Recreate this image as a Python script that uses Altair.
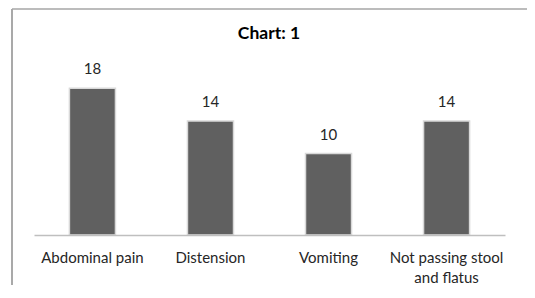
import altair as alt
import pandas as pd

categories = ["Abdominal pain", "Distension", "Vomiting", "Not passing stool and flatus"]
values = [18, 14, 10, 14]
title_text = "Chart: 1"

df = pd.DataFrame({"category": categories, "value": values})

W, H = 471, 163

x_enc = alt.X("category:N", sort=categories,
              scale=alt.Scale(paddingInner=0.61, paddingOuter=0.3),
              axis=alt.Axis(title=None, labelAngle=0, ticks=False, domainColor="#bfbfbf",
                            domainWidth=1.5, labelFont="Lato", labelFontSize=15,
                            labelColor="#262626", labelPadding=15, labelLineHeight=20,
                            zindex=1,
                            labelExpr="datum.label == 'Not passing stool and flatus' ? ['Not passing stool', 'and flatus'] : datum.label"))
y_enc = alt.Y("value:Q", scale=alt.Scale(domain=[0, 20], nice=False), axis=None)

frame = pd.DataFrame({"a": [0]})
border_left = alt.Chart(frame).mark_rule(color="#8c8c8c", strokeWidth=1.5).encode(
    x=alt.value(-22), y=alt.value(-63), y2=alt.value(230))
border_top = alt.Chart(frame).mark_rule(color="#a6a6a6", strokeWidth=1.5).encode(
    x=alt.value(-22), x2=alt.value(493), y=alt.value(-63))

bars = alt.Chart(df).mark_bar(color="#606060", stroke="#d9d9d9", strokeWidth=1.5).encode(
    x=x_enc, y=y_enc
)

labels = alt.Chart(df).mark_text(
    font="Lato", fontSize=15, color="#262626", baseline="middle", dy=-19
).encode(x=alt.X("category:N", sort=categories), y="value:Q", text="value:Q")

title = alt.Chart(pd.DataFrame({"t": [title_text]})).mark_text(
    font="Lato", fontSize=17.5, fontWeight="bold", color="#000000", baseline="middle"
).encode(x=alt.value(235), y=alt.value(-38), text="t:N")

cover = alt.Chart(frame).mark_rect(fill="white", strokeWidth=0).encode(
    x=alt.value(487), x2=alt.value(560), y=alt.value(-58), y2=alt.value(400))

chart = alt.layer(border_left, border_top, bars, labels, title, cover).properties(
    width=W, height=H,
    autosize=alt.AutoSizeParams(type="none"),
    padding={"left": 26, "top": 64, "right": 22, "bottom": 50},
).configure_view(stroke=None)

chart.save("out.html", embed_options={"renderer": "svg", "actions": False})
